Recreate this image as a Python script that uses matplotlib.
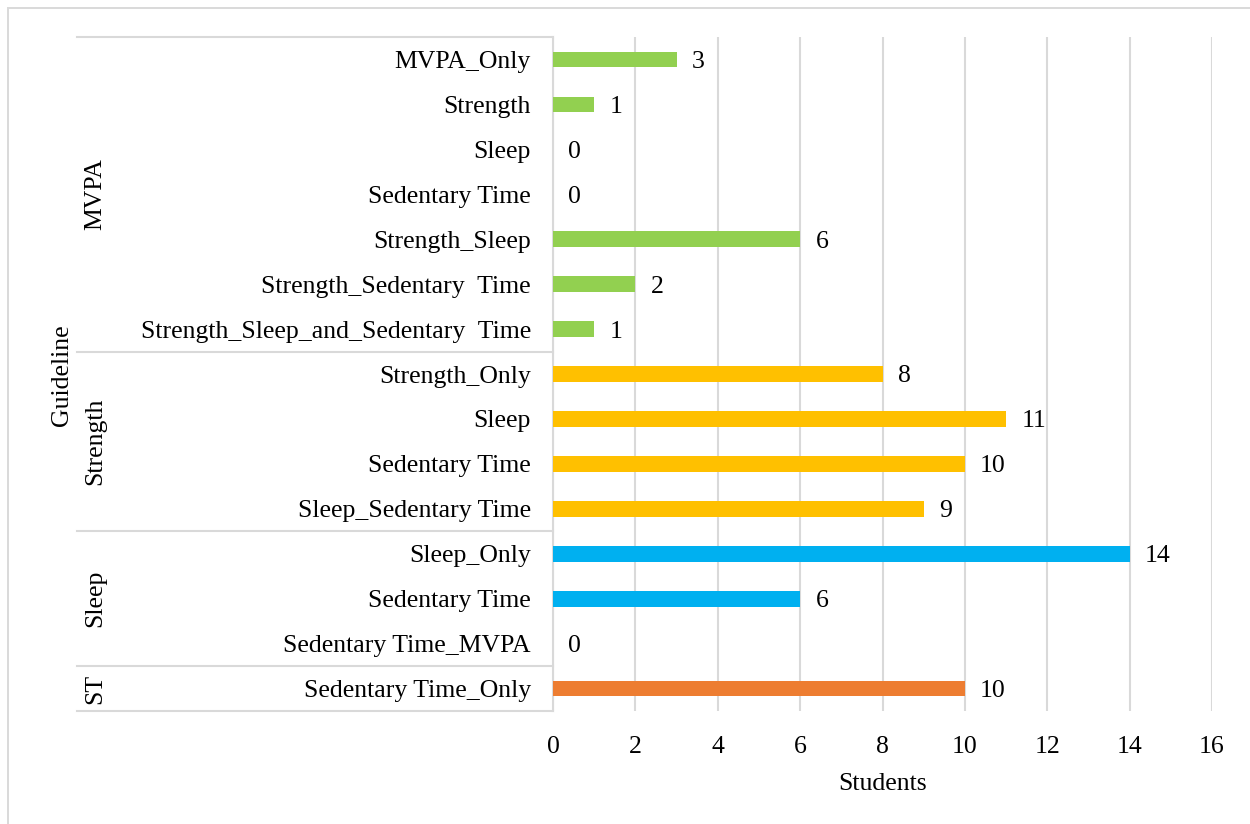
import matplotlib
matplotlib.use("Agg")
import matplotlib.pyplot as plt
from matplotlib import transforms
from matplotlib.patches import Rectangle

plt.rcParams['font.family'] = ['Liberation Serif', 'DejaVu Serif']

# Sub-categories, top to bottom
labels = [
    "MVPA_Only", "Strength", "Sleep", "Sedentary Time", "Strength_Sleep",
    "Strength_Sedentary  Time", "Strength_Sleep_and_Sedentary  Time",
    "Strength_Only", "Sleep", "Sedentary Time", "Sleep_Sedentary Time",
    "Sleep_Only", "Sedentary Time", "Sedentary Time_MVPA",
    "Sedentary Time_Only",
]
students = [3, 1, 0, 0, 6, 2, 1, 8, 11, 10, 9, 14, 6, 0, 10]

# Guideline groups and how many sub-categories each holds
groups = ["MVPA", "Strength", "Sleep", "ST"]
group_sizes = [7, 4, 3, 1]
group_colors = ["#92D050", "#FFC000", "#00B0F0", "#ED7D31"]

x_ticks = [0, 2, 4, 6, 8, 10, 12, 14, 16]

FS = 18.5
W, H = 1250, 824
fig = plt.figure(figsize=(W / 100, H / 100), dpi=100)
# chart frame (runs off the right and bottom edges)
fig.patches.append(Rectangle((8 / W, -10 / H), (W + 20) / W, (H + 2) / H,
                             transform=fig.transFigure, fill=False,
                             edgecolor="#D9D9D9", linewidth=1.4))

left, right, top, bottom = 553, 1212, 37, 711
ax = fig.add_axes([left / W, 1 - bottom / H, (right - left) / W, (bottom - top) / H])

colors = []
for g, n in zip(group_colors, group_sizes):
    colors += [g] * n

pos = list(range(len(labels)))
ax.barh(pos, students, height=0.35, color=colors, zorder=3)
for p, v in zip(pos, students):
    ax.annotate(str(v), (v, p), xytext=(11, 0), textcoords="offset points",
                ha="left", va="center_baseline", fontsize=FS)

ax.set_ylim(len(labels) - 0.5, -0.5)
ax.set_xlim(0, 16)
ax.set_xticks(x_ticks)
ax.set_yticks(pos)
ax.set_yticklabels(labels, va="center_baseline")
ax.tick_params(axis="y", length=0, pad=16, labelsize=FS)
ax.tick_params(axis="x", length=0, pad=18, labelsize=FS)
ax.grid(axis="x", color="#D9D9D9", linewidth=1.5, zorder=0)
for s in ["top", "right", "bottom"]:
    ax.spines[s].set_visible(False)
ax.spines["left"].set_color("#D9D9D9")
ax.spines["left"].set_linewidth(1.5)
ax.set_xlabel("Students", fontsize=FS, labelpad=11)

# Multi-level category axis: separators and group labels
tr = transforms.blended_transform_factory(fig.transFigure, ax.transData)
boundaries = [-0.5]
for n in group_sizes:
    boundaries.append(boundaries[-1] + n)
for b in boundaries:
    ax.plot([77 / W, left / W], [b, b], transform=tr, color="#D9D9D9",
            linewidth=1.5, clip_on=False)
for g, a, b in zip(groups, boundaries[:-1], boundaries[1:]):
    ax.text(95 / W, (a + b) / 2, g, transform=tr, rotation=90,
            ha="center", va="center", fontsize=FS)

fig.text(62 / W, 1 - 375 / H, "Guideline", rotation=90, ha="center",
         va="center", fontsize=FS)

fig.savefig("out.png", dpi=100)
